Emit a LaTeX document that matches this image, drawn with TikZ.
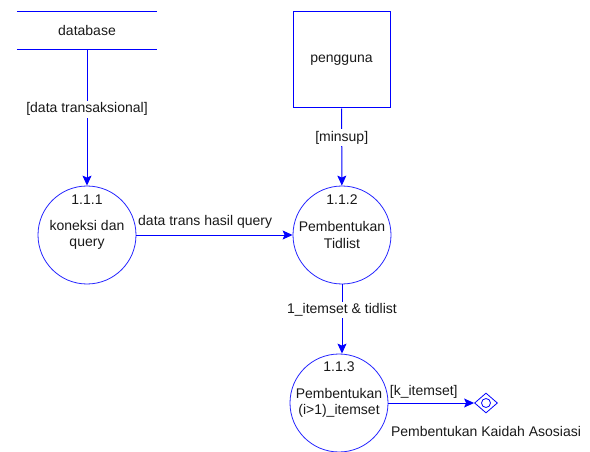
\documentclass[tikz,border=0pt]{standalone}
\usepackage{fontspec}
\setmainfont{Liberation Sans}
\usetikzlibrary{arrows.meta,positioning,shapes.geometric}

\begin{document}
\begin{tikzpicture}[x=1pt, y=-1pt,
  every node/.style={font=\fontsize{14}{16.5}\selectfont, text=black!90},
  proses/.style={circle, draw=blue!85, line width=0.8, minimum size=98pt, inner sep=0pt, align=center},
  numero/.style={inner sep=1pt},
  fleche/.style={-{Stealth[length=10pt, width=9pt, inset=2pt]}, draw=blue, line width=1},
  etiquette/.style={fill=white, inner sep=2pt}]

 \useasboundingbox (0,0) rectangle (590,452);

 %%%%%%%%%% Points pour travailler %%%%%%%%%%
 \coordinate (0) at (87,30.5);
 \coordinate (1) at (341.5,60);
 \coordinate (2) at (87,235);
 \coordinate (3) at (342,235);
 \coordinate (4) at (339,403);
 \coordinate (5) at (486,403);

 %%%%%%%%%% Stockage et entite %%%%%%%%%%
 \node (db) [minimum width=140pt, minimum height=37pt, inner sep=0pt] at (0) {database};
 \draw [blue, line width=1] (db.north west) -- (db.north east);
 \draw [blue, line width=1] (db.south west) -- (db.south east);

 \node (user) [draw=blue, line width=1, minimum width=97pt, minimum height=96pt] at (1) {pengguna};

 %%%%%%%%%% Processus %%%%%%%%%%
 \node (p1) [proses] at (2) {koneksi dan\\query};
 \node (p2) [proses] at (3) {Pembentukan\\Tidlist};
 \node (p3) [proses] at (4) {Pembentukan\\(i>1)\_itemset};

 \node (n1) [numero, below=8pt of p1.north] {1.1.1};
 \node (n2) [numero, below=8pt of p2.north] {1.1.2};
 \node (n3) [numero, below=7pt of p3.north] {1.1.3};

 %%%%%%%%%% Sortie %%%%%%%%%%
 \node (kaidah) [diamond, draw=blue, line width=0.8, minimum width=23pt, minimum height=20pt, inner sep=0pt] at (5) {};
 \node (cercle) [circle, draw=blue, line width=0.8, minimum size=9pt, inner sep=0pt] at (kaidah.center) {};
 \node (nomkaidah) [below=9pt of kaidah] {Pembentukan Kaidah Asosiasi};

 %%%%%%%%%%% Flux %%%%%%%%%%%
 \draw [fleche] (db) -- (p1) node[etiquette, pos=0.44] {[data transaksional]};
 \draw [fleche] (user) -- (p2) node[etiquette, pos=0.38] {[minsup]};
 \draw [fleche] (p1) -- (p2) node[above, pos=0.44, yshift=3pt] {data trans hasil query};
 \draw [fleche] (p2.south) -- (p2.south |- p3.north) node[etiquette, pos=0.37] {1\_itemset \& tidlist};
 \draw [fleche] (p3.east) -- (kaidah.west) node[above right, pos=0, inner sep=1pt, yshift=3pt] {[k\_itemset]};

\end{tikzpicture}
\end{document}
